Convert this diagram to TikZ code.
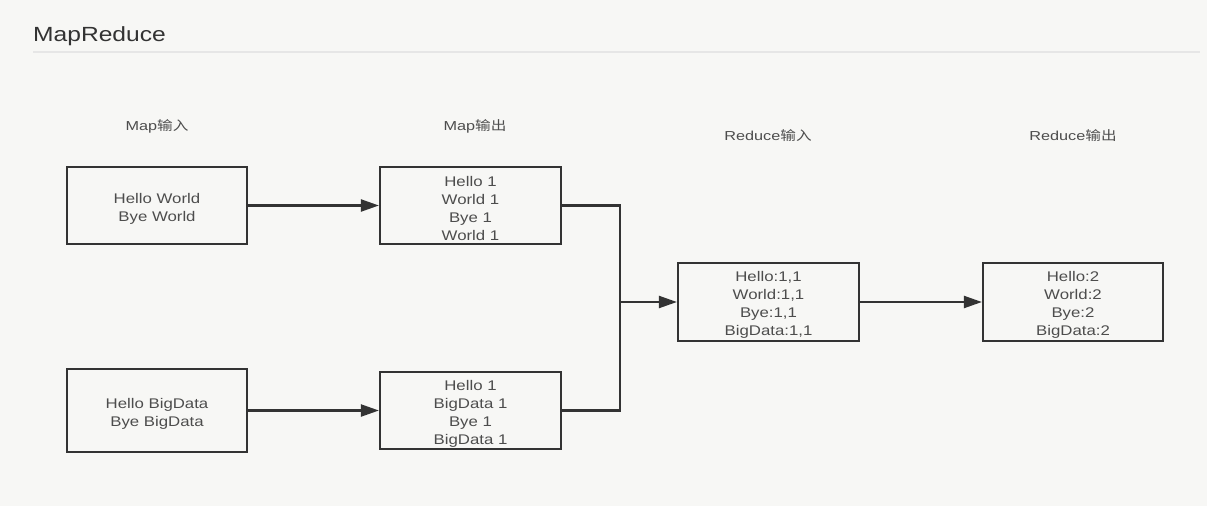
\documentclass[tikz,border=0pt]{standalone}
\usepackage{fontspec}
\setmainfont{Liberation Sans}[FakeStretch=1.2]
\newfontfamily\lblfont{Liberation Sans}[FakeStretch=1.25]
\newfontfamily\cjk{Noto Sans CJK SC}[FakeStretch=1.2]
\usetikzlibrary{arrows.meta}
\definecolor{bg}{HTML}{F7F7F5}
\definecolor{ink}{HTML}{333333}
\definecolor{txt}{HTML}{4D4D4D}
\definecolor{rule}{HTML}{E6E6E6}
\newcommand\topst{\rule{0pt}{16.5pt}}
\tikzset{
  box/.style={draw=ink, line width=2.2pt, minimum width=180pt, minimum height=77pt, inner sep=0pt,
    align=center, text=txt, font=\fontsize{14}{18}\selectfont},
  lbl/.style={text=txt, font=\lblfont\fontsize{13}{16}\selectfont, inner sep=0pt},
  conn/.style={draw=ink, line width=2.2pt},
  arr/.style={conn, -{Triangle[length=18pt,width=12pt]}},
}
\begin{document}
\begin{tikzpicture}[x=1pt,y=-1pt]
\fill[bg] (0,0) rectangle (1207,506);
\useasboundingbox (0,0) rectangle (1207,506);
\node[anchor=base west, text=ink, font=\fontsize{20.5}{24}\selectfont, inner sep=0pt] (title) at (33,41) {MapReduce};
\draw[rule, line width=1.2pt] (33,52) -- (1200,52);

\node[lbl] (l1) at (157,126) {Map{\cjk 输入}};
\node[lbl] (l2) at (475,126) {Map{\cjk 输出}};
\node[lbl] (l3) at (768,136) {Reduce{\cjk 输入}};
\node[lbl] (l4) at (1073,136) {Reduce{\cjk 输出}};

\node[box] (a1) at (157,205.5) {\topst Hello World\\Bye World};
\node[box, minimum width=181pt] (a2) at (470.5,205.5) {\topst Hello 1\\World 1\\Bye 1\\World 1};
\node[box, minimum height=83pt] (b1) at (157,410.5) {\topst Hello BigData\\Bye BigData};
\node[box, minimum width=181pt] (b2) at (470.5,410.5) {\topst Hello 1\\BigData 1\\Bye 1\\BigData 1};
\node[box, minimum width=181pt, minimum height=78pt] (r1) at (768.5,302) {\topst Hello:1,1\\World:1,1\\Bye:1,1\\BigData:1,1};
\node[box, minimum height=78pt] (r2) at (1073,302) {\topst Hello:2\\World:2\\Bye:2\\BigData:2};

\coordinate (j) at (620,302);
\draw[arr] (a1.east) -- (a2.west);
\draw[arr] (b1.east) -- (b2.west);
\draw[conn] (a2.east) -| (j);
\draw[conn] (b2.east) -| (j);
\draw[arr] (j) -- (r1.west);
\draw[arr] (r1.east) -- (r2.west);
\end{tikzpicture}
\end{document}
